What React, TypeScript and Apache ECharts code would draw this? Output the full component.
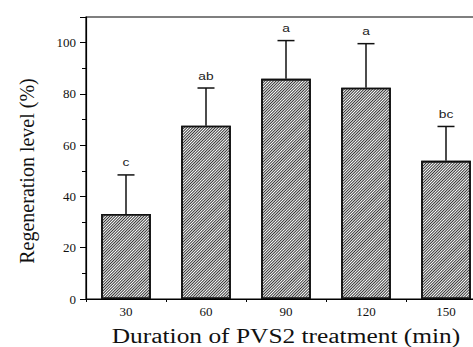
import React, { useEffect, useRef } from "react";
import * as echarts from "echarts";

const categories = ["30", "60", "90", "120", "150"];
const means = [33.2, 67.6, 85.9, 82.4, 53.9];
const errors = [15.2, 14.7, 14.9, 17.2, 13.4];
const letters = ["c", "ab", "a", "a", "bc"];
const yTicks = [0, 20, 40, 60, 80, 100];

export default function App() {
  const ref = useRef<HTMLDivElement>(null);
  useEffect(() => {
    if (!ref.current) return;
    const chart = echarts.init(ref.current, null, { renderer: "svg" });
    const serif = "Liberation Serif";
    chart.setOption({
      animation: false,
      backgroundColor: "#fff",
      grid: {
        left: 86,
        top: 17,
        bottom: 48,
        right: 0,
        show: true,
        borderColor: "#000",
        borderWidth: 1.2,
      },
      xAxis: {
        type: "category",
        data: categories,
        axisLine: { lineStyle: { color: "#000", width: 1.2 } },
        axisTick: { show: true, length: 3, lineStyle: { color: "#000" } },
        axisLabel: {
          fontFamily: serif,
          fontSize: 13,
          color: "#111",
          margin: 6,
        },
      },
      yAxis: {
        type: "value",
        min: 0,
        max: 110,
        interval: 20,
        splitLine: { show: false },
        axisLine: { show: true, lineStyle: { color: "#000", width: 1.2 } },
        axisTick: { show: true, length: 6, lineStyle: { color: "#000" } },
        minorTick: { show: true, splitNumber: 2, length: 4, lineStyle: { color: "#000" } },
        axisLabel: {
          fontFamily: serif,
          fontSize: 13,
          color: "#111",
          margin: 10,
          formatter: (v: number) => (yTicks.includes(v) ? String(v) : ""),
        },
      },
      graphic: [
        {
          type: "text",
          x: 286,
          y: 336,
          scaleX: 1.27,
          style: {
            text: "Duration of PVS2 treatment (min)",
            font: `20px "${serif}"`,
            fill: "#111",
            align: "center",
            verticalAlign: "middle",
          },
        },
        {
          type: "text",
          x: 27,
          y: 171,
          rotation: Math.PI / 2,
          style: {
            text: "Regeneration level (%)",
            font: `20px "${serif}"`,
            fill: "#111",
            align: "center",
            verticalAlign: "middle",
          },
        },
      ],
      series: [
        {
          type: "bar",
          data: means,
          barWidth: "62%",
          itemStyle: {
            color: "#fff",
            borderColor: "#111",
            borderWidth: 1.6,
            decal: {
              symbol: "rect",
              symbolSize: 1,
              color: "#333",
              backgroundColor: "#fff",
              dashArrayX: [1, 0],
              dashArrayY: [1, 1],
              rotation: -Math.PI / 4,
            },
          },
        },
        {
          type: "custom",
          data: means.map((m, i) => [i, m, errors[i]]),
          renderItem: (params: any, api: any) => {
            const i = api.value(0);
            const m = api.value(1);
            const e = api.value(2);
            const p0 = api.coord([i, m]);
            const p1 = api.coord([i, m + e]);
            const half = 8.5;
            return {
              type: "group",
              children: [
                {
                  type: "line",
                  shape: { x1: p0[0], y1: p0[1], x2: p1[0], y2: p1[1] },
                  style: { stroke: "#111", lineWidth: 1.5 },
                },
                {
                  type: "line",
                  shape: { x1: p1[0] - half, y1: p1[1], x2: p1[0] + half, y2: p1[1] },
                  style: { stroke: "#111", lineWidth: 1.5 },
                },
                {
                  type: "text",
                  x: p1[0],
                  y: p1[1] - 12,
                  scaleX: 1.25,
                  style: {
                    text: letters[i],
                    font: '11px "Liberation Sans"',
                    fill: "#222",
                    align: "center",
                    verticalAlign: "middle",
                  },
                },
              ],
            };
          },
          z: 5,
        },
      ],
    });
    return () => chart.dispose();
  }, []);
  return (
    <div
      style={{
        position: "absolute",
        left: 0,
        top: 0,
        width: 473,
        height: 347,
        overflow: "hidden",
      }}
    >
      <div ref={ref} style={{ width: 486, height: 347 }} />
    </div>
  );
}
